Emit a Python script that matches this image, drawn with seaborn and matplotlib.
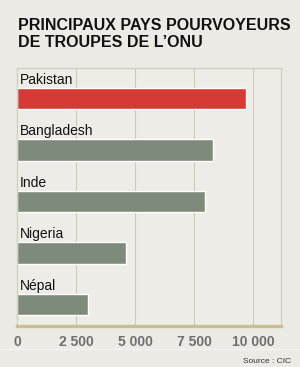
import matplotlib
matplotlib.use("Agg")
import matplotlib.pyplot as plt
import matplotlib.transforms as mtransforms
import seaborn as sns
import pandas as pd

countries = ["Pakistan", "Bangladesh", "Inde", "Nigeria", "Népal"]
troops = [9700, 8300, 7950, 4620, 3020]
bar_colors = ["#d63a35", "#7f8b7a", "#7f8b7a", "#7f8b7a", "#7f8b7a"]
tick_values = [0, 2500, 5000, 7500, 10000]
tick_labels = ["0", "2 500", "5 000", "7 500", "10 000"]
title = "PRINCIPAUX PAYS POURVOYEURS\nDE TROUPES DE L\u2019ONU"
source = "Source : CIC"

sns.set_style("white")
plt.rcParams["font.family"] = ["Liberation Sans", "DejaVu Sans"]

bg = "#ebeae4"
fig = plt.figure(figsize=(3.0, 3.67), dpi=100, facecolor=bg)
ax = fig.add_axes([17/300, 41/367, 264/300, 258/367])
ax.set_facecolor("#edece7")

df = pd.DataFrame({"pays": countries, "troupes": troops})
sns.barplot(data=df, y="pays", x="troupes", hue="pays", palette=bar_colors,
            orient="h", width=0.42, legend=False, ax=ax, saturation=1)

ax.set_xlim(0, 11186)
ax.set_ylim(4.417, -0.592)
ax.set_xlabel("")
ax.set_ylabel("")
ax.set_yticks([])
ax.set_xticks(tick_values)
ax.set_xticklabels(tick_labels, fontsize=10, fontweight="bold", color="#6e6e6e")
ax.tick_params(axis="x", length=0, pad=6.5)

for v in tick_values[1:]:
    ax.axvline(v, color="#cacbbe", lw=0.8, zorder=0)

for side in ["top", "right", "left"]:
    ax.spines[side].set_color("#cfd1c0")
    ax.spines[side].set_linewidth(1.0)
ax.spines["bottom"].set_color("#cbbd92")
ax.spines["bottom"].set_linewidth(2.4)

trans = mtransforms.blended_transform_factory(ax.transAxes, ax.transData)
for i, name in enumerate(countries):
    ax.text(3/264, i - 0.282, name, transform=trans,
            fontsize=10, color="#111111", va="baseline", ha="left")

fig.text(18/300, 1 - 46.7/367, title, fontsize=11.5, fontweight="bold",
         color="#111111", va="baseline", ha="left", linespacing=1.15)

fig.text(291/300, 1 - 361.5/367, source, fontsize=6, color="#333333",
         va="center", ha="right")

fig.add_artist(plt.Line2D([0, 1], [1 - 349/367, 1 - 349/367],
                          transform=fig.transFigure, color="#f3f2ee", lw=1))

fig.savefig("out.png", dpi=100, facecolor=bg)
